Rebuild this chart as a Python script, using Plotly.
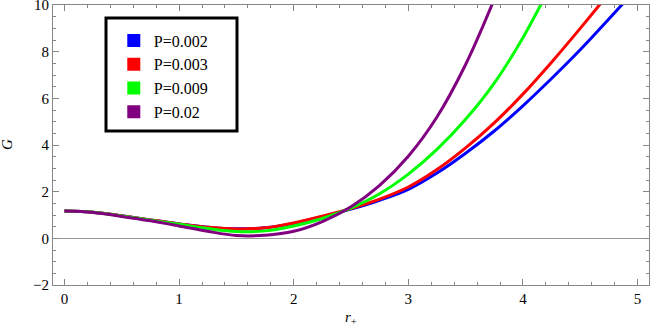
import plotly.graph_objects as go

r_vals = [0.0, 0.25, 0.5, 0.75, 1.0, 1.25, 1.5, 1.75, 2.0, 2.25, 2.5, 2.75, 3.0, 3.25, 3.5, 3.75, 4.0, 4.25, 4.5, 4.75, 5.0]

labels = ["P=0.002", "P=0.003", "P=0.009", "P=0.02"]
colors = ["#0000FF", "#FF0000", "#00FF00", "#800080"]

G_p002 = [1.17, 1.12, 0.97, 0.79, 0.62, 0.48, 0.41, 0.45, 0.64, 0.93, 1.25, 1.63, 2.1, 2.8, 3.65, 4.6, 5.68, 6.85, 8.08, 9.4, 10.75]
G_p003 = [1.17, 1.12, 0.97, 0.79, 0.62, 0.48, 0.40, 0.45, 0.66, 0.95, 1.28, 1.68, 2.2, 2.95, 3.88, 4.95, 6.18, 7.55, 9.0, 10.5, 12.05]
G_p009 = [1.17, 1.12, 0.96, 0.78, 0.60, 0.42, 0.29, 0.32, 0.53, 0.85, 1.3, 1.91, 2.75, 3.81, 5.1, 6.65, 8.6, 10.9, None, None, None]
G_p02 = [1.17, 1.11, 0.94, 0.75, 0.53, 0.30, 0.12, 0.13, 0.30, 0.72, 1.35, 2.27, 3.52, 5.2, 7.45, 10.25, None, None, None, None, None]

series = [G_p002, G_p003, G_p009, G_p02]

fig = go.Figure()
for lab, col, ys in zip(labels, colors, series):
    xs = [x for x, y in zip(r_vals, ys) if y is not None]
    yy = [y for y in ys if y is not None]
    fig.add_trace(go.Scatter(x=xs, y=yy, mode="lines",
                             line=dict(color=col, width=3, shape="spline", smoothing=1.0),
                             showlegend=False, hoverinfo="skip"))
for lab, col in zip(labels, colors):
    fig.add_trace(go.Scatter(x=[None], y=[None], mode="markers", name=lab,
                             marker=dict(symbol="square", size=13, color=col)))

serif = "Liberation Serif"
frame = "#888888"
axis_common = dict(showgrid=False, showline=True, linecolor=frame, linewidth=1, mirror="ticks",
                   ticks="inside", tickcolor=frame, ticklen=6, automargin=False,
                   ticklabeloverflow="allow",
                   tickfont=dict(family=serif, size=15, color="black"))

fig.update_layout(
    width=650, height=327,
    margin=dict(l=53, r=1, t=5, b=42),
    plot_bgcolor="white", paper_bgcolor="white",
    xaxis=dict(range=[-0.1, 5.1], dtick=1, tick0=0,
               minor=dict(ticks="inside", dtick=0.2, tick0=0, ticklen=3, tickcolor=frame),
               zeroline=False, **axis_common),
    yaxis=dict(range=[-2, 10.0001], dtick=2, tick0=0,
               minor=dict(ticks="inside", dtick=0.5, tick0=0, ticklen=3, tickcolor=frame),
               zeroline=True, zerolinecolor="#999999", zerolinewidth=1, **axis_common),
    legend=dict(x=0.102, y=0.934, xanchor="left", yanchor="top", bgcolor="rgba(0,0,0,0)",
                font=dict(family=serif, size=16, color="black"), itemwidth=30),
    shapes=[dict(type="rect", xref="paper", yref="paper",
                 x0=(106 - 53) / 596, x1=(237 - 53) / 596,
                 y0=1 - (131 - 5) / 280, y1=1 - (18 - 5) / 280,
                 line=dict(color="black", width=3), fillcolor="rgba(0,0,0,0)")],
    annotations=[
        dict(text="<i>r</i><sub>+</sub>", xref="paper", yref="paper", x=0.5, y=0,
             xanchor="center", yanchor="top", yshift=-22, showarrow=False,
             font=dict(family=serif, size=15, color="black")),
        dict(text="<i>G</i>", xref="paper", yref="paper", x=0, y=0.5, xshift=-46,
             xanchor="center", yanchor="middle", textangle=-90, showarrow=False,
             font=dict(family=serif, size=15, color="black")),
    ],
)

fig.write_html("out.html", config={"displayModeBar": False},
               post_script="document.body.style.margin='0';")
